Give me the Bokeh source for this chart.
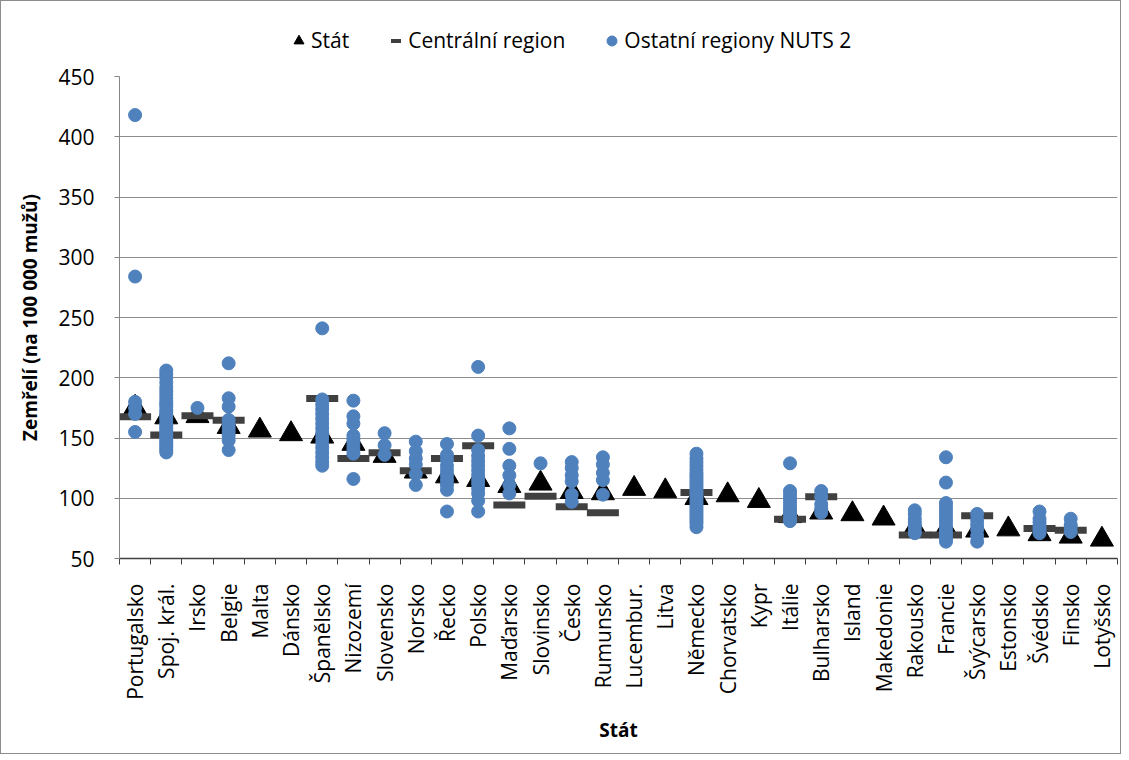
import numpy as np
from bokeh.plotting import figure
from bokeh.layouts import column
from bokeh.models import (Range1d, LinearAxis, FixedTicker, Legend, LegendItem,
                          ColumnDataSource)
from bokeh.transform import dodge
from bokeh.embed import file_html
from bokeh.resources import INLINE

# ---------------- data ----------------
countries = ["Portugalsko", "Spoj. král.", "Irsko", "Belgie", "Malta", "Dánsko",
             "Španělsko", "Nizozemí", "Slovensko", "Norsko", "Řecko", "Polsko",
             "Maďarsko", "Slovinsko", "Česko", "Rumunsko", "Lucembur.", "Litva",
             "Německo", "Chorvatsko", "Kypr", "Itálie", "Bulharsko", "Island",
             "Makedonie", "Rakousko", "Francie", "Švýcarsko", "Estonsko",
             "Švédsko", "Finsko", "Lotyšsko"]

state = [178, 170, 171, 162, 159, 156, 154, 148, 138, 125, 121, 118,
         113, 115, 108, 107, 110.6, 108.6, 103, 105.3, 100.6, 88, 91, 89.6,
         86, 78, 77, 76, 77, 73, 71, 68.5]

nan = float("nan")
central = [167.6, 152.4, 168.4, 164.8, nan, nan, 182.8, 133, 137.7, 122.8, 133, 143.5,
           94.3, 101.7, 92.9, 87.9, nan, nan, 104.8, nan, nan, 82.6, 101.2, nan,
           nan, 69.4, 69.4, 85.4, nan, 74.9, 73.5, nan]

other_regions = {
    "Portugalsko": [418, 284, 180, 175, 170, 155],
    "Spoj. král.": [206, 203, 200, 196, 192, 189, 186, 183, 180, 178, 176, 173, 171,
                    169, 167, 165, 162, 160, 158, 156, 154, 152, 150, 148, 146, 144,
                    142, 140, 138],
    "Irsko": [175],
    "Belgie": [212, 183, 176, 165, 161, 158, 155, 152, 148, 140],
    "Španělsko": [241, 182, 178, 174, 170, 166, 162, 158, 154, 150, 146, 142, 138,
                  134, 130, 127],
    "Nizozemí": [181, 168, 162, 152, 149, 146, 143, 140, 137, 116],
    "Slovensko": [154, 144, 136],
    "Norsko": [147, 139, 133, 128, 120, 111],
    "Řecko": [145, 136, 132, 127, 123, 119, 115, 111, 107, 89],
    "Polsko": [209, 152, 140, 135, 131, 127, 123, 119, 115, 112, 108, 104, 98, 89],
    "Maďarsko": [158, 141, 127, 119, 111, 104],
    "Slovinsko": [129],
    "Česko": [130, 125, 119, 114, 103, 97],
    "Rumunsko": [134, 128, 121, 115, 103],
    "Německo": [137, 133, 130, 127, 124, 121, 119, 117, 115, 113, 111, 109, 107, 105,
                103, 101, 99, 97, 95, 93, 91, 89, 87, 85, 83, 81, 79, 76],
    "Itálie": [129, 106, 103, 100, 97, 94, 91, 89, 86, 83, 81],
    "Bulharsko": [106, 101, 95, 91, 88],
    "Rakousko": [90, 87, 83, 80, 78, 76, 73, 71],
    "Francie": [134, 113, 96, 93, 90, 87, 84, 81, 78, 75, 72, 69, 66, 64],
    "Švýcarsko": [87, 82, 78, 74, 69, 64],
    "Švédsko": [89, 83, 80, 77, 75, 73, 71],
    "Finsko": [83, 78, 76, 72],
}

y_ticks = [50, 100, 150, 200, 250, 300, 350, 400, 450]
legend_labels = ["Stát", "Centrální region", "Ostatní regiony NUTS 2"]

FONT = "Open Sans"

# category positions (centre of each category slot)
n = len(countries)
pos = {c: i + 0.5 for i, c in enumerate(countries)}

# ---------------- legend strip (top of the chart) ----------------
lf = figure(width=1119, height=65, title=None,
            x_range=Range1d(0, 1), y_range=Range1d(0, 1),
            output_backend="svg", toolbar_location=None,
            x_axis_location=None, y_axis_location=None,
            min_border_left=0, min_border_right=0, min_border_top=0, min_border_bottom=0)
lf.outline_line_color = None
lf.xgrid.visible = False
lf.ygrid.visible = False
lf.background_fill_color = "white"
lf.border_fill_color = "white"

proxy = ColumnDataSource(dict(x=[nan], y=[nan]))
l_tri = lf.scatter(x="x", y="y", source=proxy, marker="triangle",
                   fill_color="black", line_color="black")
l_dash = lf.scatter(x="x", y="y", source=proxy, marker="dash", line_width=4,
                    line_color="#404040")
l_dot = lf.scatter(x="x", y="y", source=proxy, marker="circle",
                   fill_color="#4F81BD", line_color="#4F81BD")

legend = Legend(items=[LegendItem(label=legend_labels[0], renderers=[l_tri]),
                       LegendItem(label=legend_labels[1], renderers=[l_dash]),
                       LegendItem(label=legend_labels[2], renderers=[l_dot])],
                orientation="horizontal", location=(167, 12),
                glyph_width=25, glyph_height=25, label_height=25,
                label_standoff=0, spacing=34, padding=0, margin=0,
                border_line_color=None, background_fill_alpha=0,
                label_text_font=FONT, label_text_font_size="21px",
                label_text_color="black")
lf.add_layout(legend, "center")

# ---------------- main figure ----------------
p = figure(width=1119, height=687, title=None,
           x_range=Range1d(0, n), y_range=Range1d(50, 450),
           output_backend="svg", toolbar_location=None,
           x_axis_location=None,
           min_border_left=118, min_border_right=3,
           min_border_top=10, min_border_bottom=195)
p.outline_line_color = None
p.background_fill_color = "white"
p.border_fill_color = "white"

for g in p.xgrid:
    g.visible = False
p.ygrid.ticker = FixedTicker(ticks=y_ticks)
p.ygrid.grid_line_color = "#8c8c8c"
p.ygrid.grid_line_width = 1

# y axis
p.yaxis.ticker = FixedTicker(ticks=y_ticks)
p.yaxis.axis_line_color = "#868686"
p.yaxis.major_tick_line_color = "#868686"
p.yaxis.major_tick_out = 5
p.yaxis.major_tick_in = 0
p.yaxis.minor_tick_line_color = None
p.yaxis.major_label_text_font = FONT
p.yaxis.major_label_text_font_size = "21px"
p.yaxis.major_label_text_color = "black"
p.yaxis.major_label_standoff = 20
p.yaxis.axis_label = "Zemřelí (na 100 000 mužů)"
p.yaxis.axis_label_text_font = FONT
p.yaxis.axis_label_text_font_size = "19px"
p.yaxis.axis_label_text_font_style = "bold"
p.yaxis.axis_label_text_color = "black"
p.yaxis.axis_label_standoff = 12

# x axis: boundary ticks (category edges) + category labels
tick_axis = LinearAxis(ticker=FixedTicker(ticks=list(range(n + 1))),
                       major_label_text_font_size="1px", major_label_text_alpha=0,
                       major_label_standoff=0,
                       major_tick_out=6, major_tick_in=0,
                       major_tick_line_color="#404040",
                       minor_tick_line_color=None,
                       axis_line_color="#404040", axis_line_width=1.5)
p.add_layout(tick_axis, "below")

label_axis = LinearAxis(ticker=FixedTicker(ticks=[pos[c] for c in countries]),
                        major_label_overrides={pos[c]: c for c in countries},
                        axis_line_color=None, major_tick_line_color=None,
                        minor_tick_line_color=None,
                        major_label_orientation=np.pi / 2,
                        major_label_text_font=FONT,
                        major_label_text_font_size="21px",
                        major_label_text_color="black",
                        major_label_standoff=13,
                        axis_label="Stát",
                        axis_label_text_font=FONT,
                        axis_label_text_font_size="19px",
                        axis_label_text_font_style="bold",
                        axis_label_text_color="black",
                        axis_label_standoff=14)
p.add_layout(label_axis, "below")

# ---------------- glyphs ----------------
# Bokeh centres triangles on their centroid; shift to centre the marker box
tri_src = ColumnDataSource(dict(x=[pos[c] for c in countries], y=state))
p.scatter(x="x", y=dodge("y", -2.7), source=tri_src, marker="triangle", size=23,
          fill_color="black", line_color="black")

cx = [pos[c] for c, v in zip(countries, central) if not np.isnan(v)]
cy = [v for v in central if not np.isnan(v)]
p.scatter(x=cx, y=cy, marker="dash", size=32, line_width=7,
          line_color="#404040", line_cap="butt")

ox, oy = [], []
for c in countries:
    for v in other_regions.get(c, []):
        ox.append(pos[c])
        oy.append(v)
p.scatter(x=ox, y=oy, marker="circle", size=13,
          fill_color="#4F81BD", line_color="#4F81BD")

layout = column(lf, p, spacing=0)
layout.styles = {"border": "1px solid #8c8c8c"}

open("out.html", "w").write(file_html(layout, INLINE))
